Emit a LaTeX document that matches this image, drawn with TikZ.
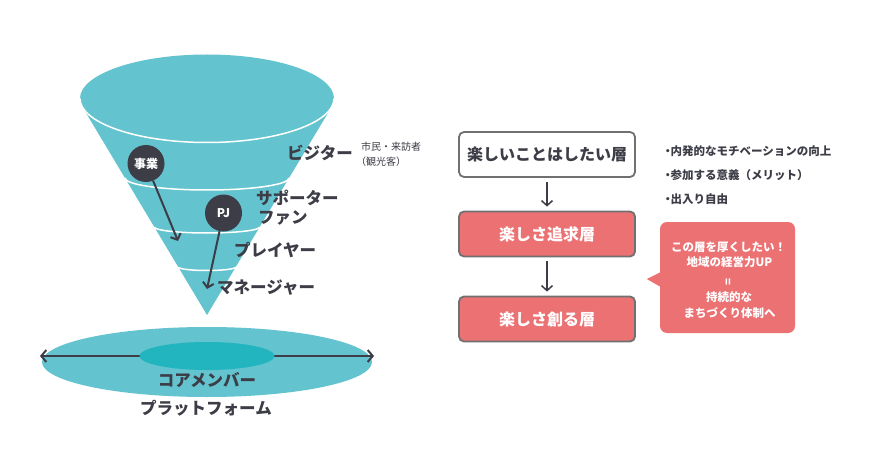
\documentclass[tikz,border=0pt]{standalone}
\usepackage{fontspec}
\setmainfont{Noto Sans CJK JP}
\usetikzlibrary{arrows.meta,calc}
\definecolor{tealA}{HTML}{63C3CE}
\definecolor{tealB}{HTML}{22B5BF}
\definecolor{dk}{HTML}{3C3D46}
\definecolor{pinkA}{HTML}{EB7173}
\definecolor{bord}{HTML}{707070}
\begin{document}
\begin{tikzpicture}[x=1pt,y=-1pt,
  lbl/.style={text=dk,font=\bfseries\fontsize{16.5}{18}\selectfont,inner sep=0pt},
  small/.style={text=dk,font=\fontsize{10}{12}\selectfont,inner sep=0pt},
  circ/.style={circle,fill=dk,minimum size=37pt,inner sep=0pt,text=white,font=\bfseries\fontsize{12}{13}\selectfont},
  darr/.style={draw=dk,line width=2pt,-{Straight Barb[length=5pt,width=11pt]}},
  band/.style={draw=white,line width=1.5pt},
  box/.style={rectangle,rounded corners=5pt,draw=bord,line width=1.8pt,minimum width=176pt,minimum height=45pt,font=\bfseries\fontsize{16}{18}\selectfont},
  rarr/.style={draw=dk,line width=1.5pt,-{Straight Barb[length=5pt,width=11pt]},shorten <=4pt,shorten >=4pt},
  bul/.style={text=dk,font=\bfseries\fontsize{11.5}{13}\selectfont,inner sep=0pt,anchor=west},
  ctext/.style={text=white,font=\bfseries\fontsize{11.5}{13}\selectfont,inner sep=0pt}]
\useasboundingbox (0,0) rectangle (880,473);
% cone
\fill[tealA] (82.7,107.4) -- (207,315) -- (331.3,107.4) -- cycle;
\fill[tealA] (207,98.5) ellipse [x radius=127, y radius=44];
\draw[band] (80,98.5) arc[start angle=180,end angle=0,x radius=127,y radius=44];
\draw[band] (125,178) arc[start angle=180,end angle=0,x radius=82,y radius=12];
\draw[band] (154.3,227) arc[start angle=180,end angle=0,x radius=52.7,y radius=6];
\draw[band] (178.2,267) arc[start angle=180,end angle=0,x radius=28.8,y radius=3.5];
% circles and arrows
\node[circ] (jg) at (146,163.5) {事業};
\node[circ] (pj) at (223.5,213) {PJ};
\coordinate (e1) at (178,241);
\coordinate (e2) at (207,289);
\draw[darr] (jg) -- (e1);
\draw[darr] (pj) -- (e2);
% labels
\node[lbl,anchor=west] (vis) at (287,153) {ビジター};
\node[small,anchor=west] (sm1) at (361,147) {市民・来訪者};
\node[small,anchor=west] (sm2) at (356,162) {（観光客）};
\node[lbl,anchor=west] (sup) at (256,198) {サポーター};
\node[lbl,anchor=west] (fan) at (258,218) {ファン};
\node[lbl,anchor=west] (ply) at (234,250) {プレイヤー};
\node[lbl,anchor=west] (mgr) at (217,288) {マネージャー};
% platform
\fill[tealA] (207,362) ellipse [x radius=165, y radius=35];
\coordinate (pl) at (40,356);
\coordinate (pr) at (374,356);
\draw[draw=dk,line width=2pt,{Straight Barb[length=5pt,width=12pt]}-{Straight Barb[length=5pt,width=12pt]}] (pl) -- (pr);
\fill[tealB] (207,356) ellipse [x radius=67.5, y radius=14];
\node[lbl] (core) at (207,380) {コアメンバー};
\node[lbl] (plat) at (206,408) {プラットフォーム};
% right boxes
\node[box,fill=white,text=dk] (b1) at (547,154.5) {楽しいことはしたい層};
\node[box,fill=pinkA,text=white] (b2) at (547,234) {楽しさ追求層};
\node[box,fill=pinkA,text=white] (b3) at (547,319) {楽しさ創る層};
\draw[rarr] (b1) -- (b2);
\draw[rarr] (b2) -- (b3);
% bullets
\node[bul] (u1) at (662,151) {・\kern-3pt 内発的なモチベーションの向上};
\node[bul] (u2) at (662,175) {・\kern-3pt 参加する意義（メリット）};
\node[bul] (u3) at (662,199) {・\kern-3pt 出入り自由};
% callout
\node[fill=pinkA,rounded corners=7pt,minimum width=135pt,minimum height=111pt,inner sep=0pt] (co) at (727.5,277.5) {};
\fill[pinkA] ($(co.west)+(1,-5.5)$) -- ($(co.west)+(-13,1.5)$) -- ($(co.west)+(1,9.5)$) -- cycle;
\node[ctext] (c1) at (728.5,247) {この層を厚くしたい！};
\node[ctext] (c2) at (729.5,262) {地域の経営力UP};
\node[ctext,rotate=90] (c3) at (729,282) {=};
\node[ctext] (c4) at (729,297) {持続的な};
\node[ctext] (c5) at (729.5,313) {まちづくり体制へ};
\end{tikzpicture}
\end{document}
